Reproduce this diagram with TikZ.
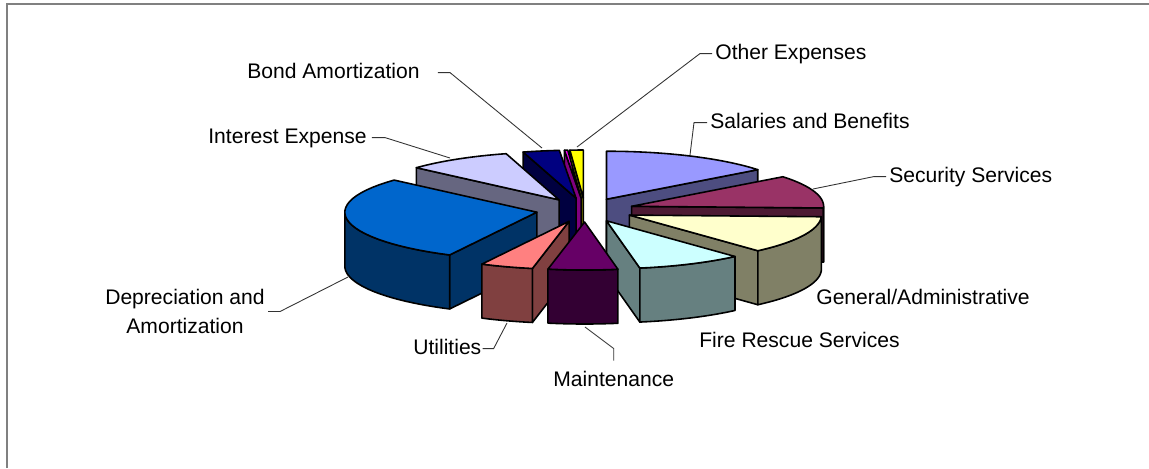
\documentclass[tikz,border=0pt]{standalone}
\usepackage{fontspec}
\setmainfont{Liberation Sans}
\usepackage{xcolor}

\definecolor{salTop}{HTML}{9999FF}  \definecolor{salSide}{HTML}{4D4D80}
\definecolor{secTop}{HTML}{993366}  \definecolor{secSide}{HTML}{4D1A33}
\definecolor{genTop}{HTML}{FFFFCC}  \definecolor{genSide}{HTML}{808066}
\definecolor{fireTop}{HTML}{CCFFFF} \definecolor{fireSide}{HTML}{668080}
\definecolor{mntTop}{HTML}{660066}  \definecolor{mntSide}{HTML}{330033}
\definecolor{utilTop}{HTML}{FF8080} \definecolor{utilSide}{HTML}{804040}
\definecolor{depTop}{HTML}{0066CC}  \definecolor{depSide}{HTML}{003366}
\definecolor{intTop}{HTML}{CCCCFF}  \definecolor{intSide}{HTML}{666680}
\definecolor{bondTop}{HTML}{000080} \definecolor{bondSide}{HTML}{000040}
\definecolor{magTop}{HTML}{FF00FF}  \definecolor{magSide}{HTML}{800080}
\definecolor{othTop}{HTML}{FFFF00}  \definecolor{othSide}{HTML}{808000}

% pie centre, rim radii, thickness, explode (pixels)
\def\piecx{585}
\def\piecy{210}
\def\piex{192}
\def\piey{48}
\def\pieh{54}

% start angle, end angle (clockwise), top colour, side colour
\newcommand{\pieslice}[4]{%
  \pgfmathsetmacro{\bis}{(#1+#2)/2}
  \pgfmathsetmacro{\ax}{\piecx+49*cos(\bis)}
  \pgfmathsetmacro{\ay}{\piecy-12*sin(\bis)}
  \pgfmathtruncatemacro{\showstart}{cos(#1)<-0.01}
  \pgfmathtruncatemacro{\showend}{cos(#2)>0.01}
  \pgfmathsetmacro{\wallhi}{min(#1,0)}
  \pgfmathsetmacro{\walllo}{max(#2,-180)}
  \pgfmathtruncatemacro{\showwall}{\wallhi>\walllo+0.1}
  \ifnum\showstart=1
    \filldraw[face, fill=#4] (\ax,\ay) -- ({\ax+\piex*cos(#1)},{\ay-\piey*sin(#1)})
      -- ++(0,\pieh) -- (\ax,\ay+\pieh) -- cycle;
  \fi
  \ifnum\showend=1
    \filldraw[face, fill=#4] (\ax,\ay) -- ({\ax+\piex*cos(#2)},{\ay-\piey*sin(#2)})
      -- ++(0,\pieh) -- (\ax,\ay+\pieh) -- cycle;
  \fi
  \ifnum\showwall=1
    \filldraw[face, fill=#4]
      plot[domain=\wallhi:\walllo, samples=25] ({\ax+\piex*cos(\x)},{\ay-\piey*sin(\x)})
      -- plot[domain=\walllo:\wallhi, samples=25] ({\ax+\piex*cos(\x)},{\ay+\pieh-\piey*sin(\x)})
      -- cycle;
  \fi
  \filldraw[face, fill=#3] (\ax,\ay)
    -- plot[domain=#1:#2, samples=30] ({\ax+\piex*cos(\x)},{\ay-\piey*sin(\x)}) -- cycle;
}

\tikzset{
  face/.style={draw=black, line width=0.9pt, line join=round},
  leader/.style={draw=black!80, line width=0.5pt},
  lbl/.style={font=\fontsize{12}{17}\selectfont, inner sep=0pt},
  lblone/.style={lbl, text height=8.6pt, text depth=2.4pt, anchor=base west},
  frame/.style={draw=black!50, line width=1.2pt}
}

\begin{document}
\begin{tikzpicture}[x=0.02cm, y=-0.02cm]
\useasboundingbox (0,0) rectangle (1149,468);
\draw[frame] (7,468) -- (7,4) -- (1149,4);

% slices, back to front
\pieslice{-266}{-270}{othTop}{othSide}
\pieslice{-265}{-266}{magTop}{magSide}
\pieslice{-254}{-265}{bondTop}{bondSide}
\pieslice{90}{38}{salTop}{salSide}
\pieslice{-222}{-254}{intTop}{intSide}
\pieslice{38}{-2}{secTop}{secSide}
\pieslice{-117}{-222}{depTop}{depSide}
\pieslice{-2}{-48}{genTop}{genSide}
\pieslice{-48}{-80}{fireTop}{fireSide}
\pieslice{-101}{-117}{utilTop}{utilSide}
\pieslice{-80}{-101}{mntTop}{mntSide}

% labels
\node[lblone] (oth) at (715,59) {Other Expenses};
\node[lblone] (sal) at (710,128) {Salaries and Benefits};
\node[lblone] (sec) at (889,182) {Security Services};
\node[lblone] (gen) at (816,304) {General/Administrative};
\node[lblone] (fire) at (699,347) {Fire Rescue Services};
\node[lblone] (mnt) at (553,386) {Maintenance};
\node[lblone] (util) at (413,354) {Utilities};
\node[lbl, align=center] (dep) at (185,311.5) {Depreciation and\\Amortization};
\node[lblone] (int) at (208,143) {Interest Expense};
\node[lblone] (bond) at (247,78) {Bond Amortization};

% leader ends on the slices
\coordinate (othtip) at (577,147);
\coordinate (saltip) at (690,155);
\coordinate (sectip) at (813,189);
\coordinate (mnttip) at (585,327);
\coordinate (utiltip) at (507,323);
\coordinate (deptip) at (348,277);
\coordinate (inttip) at (450,158);
\coordinate (bondtip) at (542,148);

\draw[leader] ([xshift=0.36cm]bond.east) -- ++(12,0) -- (bondtip);
\draw[leader] ([xshift=0.1cm]int.east) -- ++(13,0) -- (inttip);
\draw[leader] ([xshift=-0.06cm]oth.west) -- ++(-12,0) -- (othtip);
\draw[leader] ([xshift=-0.06cm]sal.west) -- ++(-13,0) -- (saltip);
\draw[leader] ([xshift=-0.06cm]sec.west) -- ++(-12,0) -- (sectip);
\draw[leader] ([xshift=0.06cm]dep.east) -- ++(12,0) -- (deptip);
\draw[leader] ([xshift=0.02cm]util.east) -- ++(11,0) -- (utiltip);
\draw[leader] ([yshift=0.2cm]mnt.north) -- ++(0,-12) -- (mnttip);
\end{tikzpicture}
\end{document}
